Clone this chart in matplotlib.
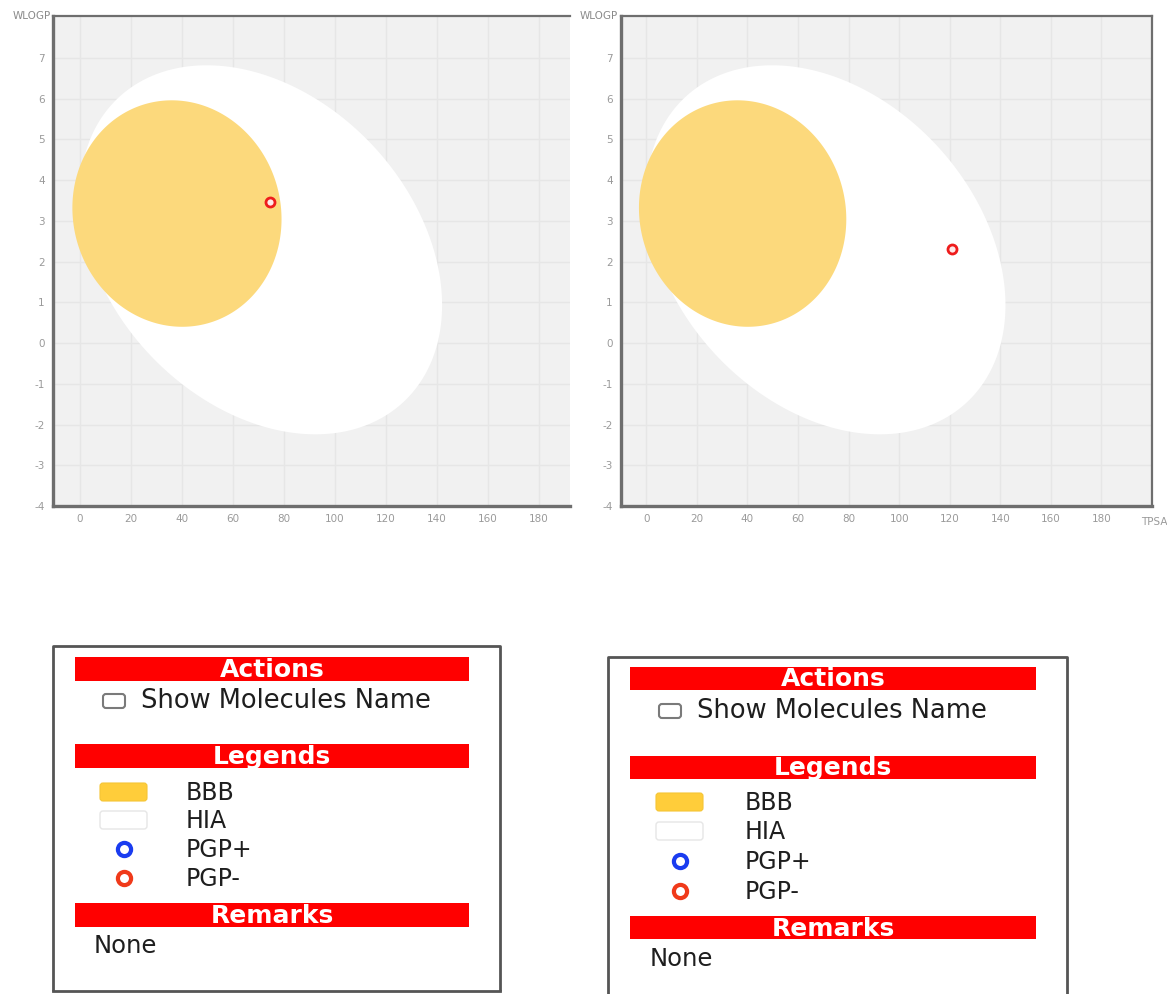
import numpy as np
import matplotlib
matplotlib.use("Agg")
import matplotlib.pyplot as plt
from matplotlib.patches import Rectangle, FancyBboxPatch, Polygon

# ---------------- data ----------------
# BOILED-Egg regions (TPSA, WLOGP)
hia_center = (71.05, 2.29)
hia_half_extent = (71.0, 4.53)
hia_corr = -0.30
bbb_center = (38.1, 3.18)
bbb_half_extent = (41.0, 2.78)
bbb_corr = -0.05

# molecules (TPSA, WLOGP), PGP- (red)
mol_left_tpsa = [74.5]
mol_left_wlogp = [3.46]
mol_right_tpsa = [120.8]
mol_right_wlogp = [2.31]

x_ticks = [0, 20, 40, 60, 80, 100, 120, 140, 160, 180]
y_ticks = [-4, -3, -2, -1, 0, 1, 2, 3, 4, 5, 6, 7]

legend_labels = ["BBB", "HIA", "PGP+", "PGP-"]
section_titles = ["Actions", "Legends", "Remarks"]
action_label = "Show Molecules Name"
remarks_text = "None"

# ---------------- figure ----------------
W, H = 1167, 994
fig = plt.figure(figsize=(W / 100, H / 100), dpi=100)
fig.patch.set_facecolor("white")


def ellipse_points(center, half, corr, n=400):
    a, b = half
    c = corr * a * b
    l21 = c / a
    l22 = np.sqrt(b * b - l21 * l21)
    t = np.linspace(0, 2 * np.pi, n)
    x = center[0] + a * np.cos(t)
    y = center[1] + l21 * np.cos(t) + l22 * np.sin(t)
    return np.column_stack([x, y])


def make_chart(rect, xlim, tpsa, wlogp, show_right, show_tpsa):
    ax = fig.add_axes(rect)
    ax.set_facecolor("#f1f1f1")
    ax.set_xlim(*xlim)
    ax.set_ylim(-4, 8.03)
    ax.set_xticks(x_ticks)
    ax.set_yticks(y_ticks)
    ax.set_xticklabels([str(v) for v in x_ticks])
    ax.set_yticklabels([str(v) for v in y_ticks])
    ax.tick_params(length=0, labelsize=7.5, labelcolor="#9a9a9a", pad=6)
    ax.grid(True, color="#e6e6e6", linewidth=1.0)
    ax.set_axisbelow(True)
    for name, sp in ax.spines.items():
        sp.set_color("#6e6e6e")
        sp.set_linewidth(1.6)
    ax.spines["left"].set_linewidth(2.4)
    ax.spines["bottom"].set_linewidth(2.4)
    if not show_right:
        ax.spines["right"].set_visible(False)
    ax.add_patch(Polygon(ellipse_points(hia_center, hia_half_extent, hia_corr),
                         closed=True, facecolor="white", edgecolor="none", zorder=2))
    ax.add_patch(Polygon(ellipse_points(bbb_center, bbb_half_extent, bbb_corr),
                         closed=True, facecolor="#fcd97c", edgecolor="none", zorder=3))
    ax.plot(tpsa, wlogp, linestyle="none", marker="o", markersize=6.5,
            markerfacecolor="#ffe9e9", markeredgecolor="#ee1c1c",
            markeredgewidth=2, zorder=5)
    ax.text(-0.005, 1.0, "WLOGP", transform=ax.transAxes, ha="right", va="center",
            fontsize=7.5, color="#8a8a8a")
    if show_tpsa:
        ax.text(0.979, -0.022, "TPSA", transform=ax.transAxes, ha="left", va="top",
                fontsize=7.5, color="#9a9a9a")
    return ax


ax_bottom = 1 - 506 / H
ax_h = 490 / H
make_chart([53 / W, ax_bottom, 517 / W, ax_h], (-10.5, 192.2),
           mol_left_tpsa, mol_left_wlogp, show_right=False, show_tpsa=False)
make_chart([621 / W, ax_bottom, 531 / W, ax_h], (-10.0, 200.0),
           mol_right_tpsa, mol_right_wlogp, show_right=True, show_tpsa=True)

# ---------------- info panels ----------------
ui = fig.add_axes([0, 0, 1, 1], zorder=-1)
ui.set_xlim(0, W)
ui.set_ylim(H, 0)
ui.axis("off")

text_color = "#1e1e1e"


def panel(box, bar_x, ys, draw_bottom):
    x0, y0, x1, y1 = box
    ui.plot([x0, x0, x1, x1], [y1, y0, y0, y1], color="#555555", linewidth=2,
            solid_capstyle="butt")
    if draw_bottom:
        ui.plot([x0, x1], [y1, y1], color="#555555", linewidth=2)
    bx0, bx1 = bar_x
    cx = (bx0 + bx1) / 2
    for title, (ya, yb) in zip(section_titles, [ys["actions"], ys["legends"], ys["remarks"]]):
        ui.add_patch(Rectangle((bx0, ya), bx1 - bx0, yb - ya, facecolor="#ff0000",
                               edgecolor="none"))
        ui.text(cx, (ya + yb) / 2 + 1, title, ha="center", va="center", color="white",
                fontsize=18, fontweight="bold", family="DejaVu Sans")
    cbx, cby = ys["checkbox"]
    ui.add_patch(FancyBboxPatch((cbx, cby - 7), 22, 14,
                                boxstyle="round,pad=0,rounding_size=3",
                                facecolor="white", edgecolor="#7a7a7a", linewidth=1.5))
    ui.text(ys["action_text_x"], cby, action_label, ha="left", va="center",
            color=text_color, fontsize=18.5, family="DejaVu Sans")
    sw_x = ys["swatch_x"]
    tx = ys["legend_text_x"]
    ly = ys["legend_rows"]
    ui.add_patch(FancyBboxPatch((sw_x, ly[0] - 9), 47, 18,
                                boxstyle="round,pad=0,rounding_size=3",
                                facecolor="#ffcd3a", edgecolor="#f5c535", linewidth=0.8))
    ui.add_patch(FancyBboxPatch((sw_x, ly[1] - 9), 47, 18,
                                boxstyle="round,pad=0,rounding_size=3",
                                facecolor="white", edgecolor="#e6e6e6", linewidth=1.0))
    ring_x = sw_x + 24
    ui.plot([ring_x], [ly[2]], marker="o", markersize=9.5, markerfacecolor="white",
            markeredgecolor="#1a3cf0", markeredgewidth=3, linestyle="none")
    ui.plot([ring_x], [ly[3]], marker="o", markersize=9.5, markerfacecolor="white",
            markeredgecolor="#f03a1a", markeredgewidth=3, linestyle="none")
    for lab, yy in zip(legend_labels, ly):
        ui.text(tx, yy + 1, lab, ha="left", va="center", color=text_color,
                fontsize=17, family="DejaVu Sans")
    ui.text(ys["none_x"], ys["none_y"], remarks_text, ha="left", va="center",
            color=text_color, fontsize=17.5, family="DejaVu Sans")


panel((53, 646, 500, 991), (75, 469),
      {"actions": (657, 681), "legends": (744, 768), "remarks": (903, 927),
       "checkbox": (103, 701), "action_text_x": 141,
       "swatch_x": 100, "legend_text_x": 186,
       "legend_rows": [792, 820, 849, 878],
       "none_x": 94, "none_y": 946},
      draw_bottom=True)

panel((608, 657, 1067, 1000), (630, 1036),
      {"actions": (667, 690), "legends": (756, 779), "remarks": (916, 939),
       "checkbox": (659, 711), "action_text_x": 697,
       "swatch_x": 656, "legend_text_x": 745,
       "legend_rows": [802, 831, 861, 891],
       "none_x": 650, "none_y": 959},
      draw_bottom=False)

fig.savefig("out.png", dpi=100, facecolor="white")
